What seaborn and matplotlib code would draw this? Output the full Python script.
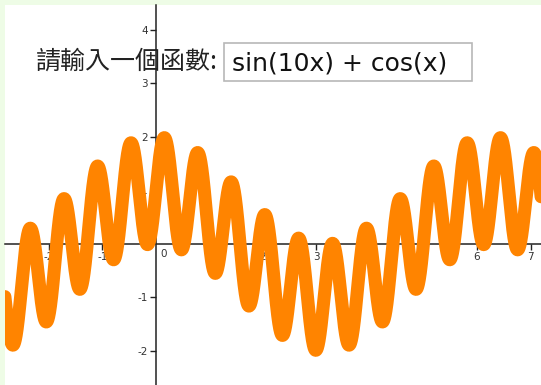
import numpy as np
import pandas as pd
import matplotlib
matplotlib.use("Agg")
import matplotlib.pyplot as plt
import seaborn as sns

# Function typed in the input box and the visible window of the graph
prompt_label = "請輸入一個函數:"
expression = "sin(10x) + cos(x)"
x_min, x_max = -2.822, 7.196
y_min, y_max = -2.636, 4.467
x_ticks = [-2, -1, 1, 2, 3, 4, 5, 6, 7]
y_ticks = [-2, -1, 1, 2, 3, 4]

xs = np.linspace(x_min - 0.2, x_max + 0.2, 4000)
ys = eval(expression.replace("10x", "10*x"), {"sin": np.sin, "cos": np.cos, "x": xs})
df = pd.DataFrame({"x": xs, "y": ys})

sns.set_theme(style="white")
plt.rcParams["font.family"] = ["DejaVu Sans"]

W, H, DPI = 541, 385, 100
fig = plt.figure(figsize=(W / DPI, H / DPI), dpi=DPI)
fig.patch.set_facecolor("#eefce6")
ax = fig.add_axes([5 / W, 0, (W - 5) / W, (H - 5) / H])
ax.set_facecolor("white")

sns.lineplot(data=df, x="x", y="y", ax=ax, color="#ff8400", linewidth=9.4,
             sort=False, zorder=5, solid_capstyle="round")
ax.set_xlim(x_min, x_max)
ax.set_ylim(y_min, y_max)
ax.set_xlabel("")
ax.set_ylabel("")

for side in ("top", "right"):
    ax.spines[side].set_visible(False)
for side in ("left", "bottom"):
    ax.spines[side].set_position(("data", 0))
    ax.spines[side].set_color("#222222")
    ax.spines[side].set_linewidth(1.1)
    ax.spines[side].set_zorder(2)

ax.set_xticks(x_ticks)
ax.set_yticks(y_ticks)
ax.set_xticklabels([str(t) for t in x_ticks])
ax.set_yticklabels([str(t) for t in y_ticks])
ax.tick_params(axis="both", direction="out", length=4, width=1, color="#222222",
               labelsize=7.5, labelcolor="#333333", pad=2)
ax.tick_params(axis="x", bottom=True)
ax.tick_params(axis="y", left=True)
ax.text(0.08, -0.09, "0", fontsize=7.5, color="#333333", ha="left", va="top", zorder=3)

# Prompt text and input box
fig.text(36 / W, 1 - 62 / H, prompt_label, fontsize=18,
         family=["Noto Sans CJK TC", "DejaVu Sans"], color="#222222",
         ha="left", va="center", zorder=10)
box = plt.Rectangle((224 / W, 1 - 81 / H), (472 - 224) / W, 38 / H,
                    transform=fig.transFigure, facecolor="white",
                    edgecolor="#b8b8b8", linewidth=1.2, zorder=10)
fig.add_artist(box)
fig.text(232 / W, 1 - 63 / H, expression, fontsize=18, color="#111111",
         family=["DejaVu Sans"], ha="left", va="center", zorder=11)

fig.savefig("out.png", dpi=DPI, facecolor=fig.get_facecolor())
